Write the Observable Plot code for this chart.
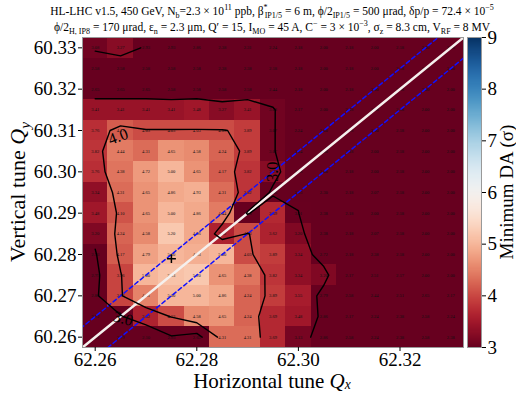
<!DOCTYPE html>
<html><head><meta charset="utf-8">
<script src="https://cdn.jsdelivr.net/npm/d3@7"></script>
<script src="https://cdn.jsdelivr.net/npm/@observablehq/plot@0.6"></script>
<style>
body{margin:0;background:#fff;}
#wrap{position:relative;width:516px;height:393px;overflow:hidden;font-family:"Liberation Serif","DejaVu Serif",serif;color:#000;}
#wrap svg{position:absolute;left:0;top:0;overflow:visible;}
.lbl{position:absolute;white-space:nowrap;line-height:1;}
.lbl sub,.lbl sup{font-size:70%;line-height:0;}
.lbl sub.low{font-size:65%;vertical-align:-0.08em;}
</style></head><body><div id="wrap"></div>
<script>
// ---- data ----
const qx = [62.26, 62.265, 62.27, 62.275, 62.28, 62.285, 62.29, 62.295, 62.30, 62.305, 62.31, 62.315, 62.32, 62.325, 62.33];
const qy = [60.33, 60.325, 60.32, 60.315, 60.31, 60.305, 60.30, 60.295, 60.29, 60.285, 60.28, 60.275, 60.27, 60.265, 60.26];
const da = [
  [3.08, 3.27, 2.93, 2.93, 2.86, 2.38, 2.31, 2.24, 2.18, 2.00, 2.18, 2.00, 2.18, 2.00, 2.00],
  [2.58, 2.58, 2.58, 2.58, 2.58, 2.38, 2.38, 2.18, 2.18, 2.00, 2.18, 2.00, 2.18, 2.00, 2.00],
  [2.65, 2.65, 2.65, 2.58, 2.58, 2.58, 2.58, 2.44, 2.18, 2.00, 2.18, 2.00, 2.18, 2.00, 2.00],
  [3.41, 3.41, 3.41, 3.41, 3.48, 3.27, 3.41, 3.08, 2.17, 2.00, 2.18, 2.00, 2.18, 2.00, 2.00],
  [3.76, 4.17, 4.03, 4.03, 4.03, 4.03, 3.89, 3.07, 2.24, 2.00, 2.18, 2.00, 2.18, 2.00, 2.00],
  [3.82, 4.44, 4.31, 4.65, 4.58, 4.24, 3.89, 3.07, 2.24, 2.00, 2.18, 2.00, 2.18, 2.00, 2.00],
  [3.76, 4.38, 4.72, 5.00, 4.65, 4.17, 3.82, 3.27, 2.38, 2.00, 2.18, 2.00, 2.18, 2.00, 2.00],
  [3.34, 4.31, 4.65, 4.86, 4.93, 4.31, 3.82, 2.86, 2.93, 2.30, 2.18, 2.07, 2.18, 2.00, 2.00],
  [3.48, 4.10, 4.65, 5.00, 4.86, 4.44, 2.93, 3.69, 3.01, 2.38, 2.18, 2.00, 2.18, 2.00, 2.00],
  [3.20, 4.24, 4.58, 5.20, 4.86, 3.62, 4.03, 3.62, 3.20, 2.38, 2.18, 2.07, 2.18, 2.00, 2.00],
  [2.93, 4.17, 4.79, 5.00, 4.93, 5.00, 4.03, 3.89, 3.34, 2.72, 2.18, 2.38, 2.18, 2.00, 2.00],
  [2.79, 3.96, 5.00, 5.13, 5.20, 4.65, 4.38, 3.82, 3.34, 3.20, 2.17, 2.51, 2.17, 2.00, 2.00],
  [2.86, 3.96, 4.51, 5.00, 5.00, 4.86, 4.24, 3.89, 3.55, 2.79, 2.58, 2.44, 2.51, 2.65, 2.17],
  [2.72, 2.93, 3.62, 4.03, 4.58, 4.65, 4.24, 3.69, 3.48, 2.86, 2.17, 2.24, 2.38, 2.58, 2.24],
  [2.72, 2.79, 2.10, 2.93, 2.65, 4.31, 4.31, 3.69, 3.13, 2.86, 2.58, 2.24, 2.38, 2.58, 2.38]
];
const xTicks = [62.26, 62.28, 62.30, 62.32];
const yTicks = [60.26, 60.27, 60.28, 60.29, 60.30, 60.31, 60.32, 60.33];
const cbTicks = [3, 4, 5, 6, 7, 8, 9];
const daRange = [3, 9];
const contourLevels = [3, 4];
const diagonalShift = 2;          // Qy = Qx - 2
const bandOffsets = [-0.005, 0.005];
const workingPoint = [{qx: 62.275, qy: 60.279}];
const contourLabels = [
  {qx: 62.2645, qy: 60.3085, text: "4.0", rotate: -20},
  {qx: 62.295, qy: 60.300, text: "3.0", rotate: -90},
  {qx: 62.2655, qy: 60.2645, text: "3.0", rotate: 15}
];

// ---- derived ----
const FONT = "Liberation Serif, DejaVu Serif, serif";
const step = qx[1] - qx[0];
const nx = qx.length, ny = qy.length;
const xDom = [qx[0] - step / 2, qx[nx - 1] + step / 2];
const yDom = [qy[ny - 1] - step / 2, qy[0] + step / 2];
const cells = [];
da.forEach((row, j) => row.forEach((v, i) => cells.push({qx: qx[i], qy: qy[j], v})));

// contour lines (clipped to the grid of cell centres, as matplotlib does)
const polys = d3.contours().size([nx, ny]).thresholds(contourLevels)(da.flat());
const lines = [];
let lid = 0;
const eps = 1e-6;
const inside = p => p[0] >= 0.5 - eps && p[0] <= nx - 0.5 + eps && p[1] >= 0.5 - eps && p[1] <= ny - 0.5 + eps;
const toData = p => ({qx: qx[0] + (p[0] - 0.5) * step, qy: qy[0] - (p[1] - 0.5) * step});
polys.forEach(mp => mp.coordinates.forEach(poly => poly.forEach(ring => {
  const flags = ring.map(inside);
  if (flags.every(f => f)) {
    lid++; ring.forEach(p => lines.push({...toData(p), id: lid}));
    return;
  }
  const k = flags.indexOf(false);
  const r = ring.slice(k, ring.length - 1).concat(ring.slice(0, k + 1));
  let seg = [];
  const flush = () => { if (seg.length > 1) { lid++; seg.forEach(p => lines.push({...toData(p), id: lid})); } seg = []; };
  r.forEach(p => { if (inside(p)) seg.push(p); else flush(); });
  flush();
})));

const diagPts = xDom.map(x => ({qx: x, qy: x - diagonalShift}));
const bandPts = [];
bandOffsets.forEach((o, k) => [xDom[0] - 0.01, xDom[1] + 0.01].forEach(x => bandPts.push({qx: x, qy: x - diagonalShift + o, k})));

const colorScale = {type: "linear", scheme: "rdbu", domain: daRange, clamp: true};

const main = Plot.plot({
  width: 516, height: 393,
  marginLeft: 82, marginRight: 53, marginTop: 37, marginBottom: 46,
  style: {fontFamily: FONT, background: "transparent"},
  x: {domain: xDom},
  y: {domain: yDom},
  color: colorScale,
  marks: [
    Plot.rect(cells, {x1: d => d.qx - step / 2, x2: d => d.qx + step / 2, y1: d => d.qy - step / 2, y2: d => d.qy + step / 2, fill: "v", shapeRendering: "crispEdges"}),
    Plot.text(cells, {x: "qx", y: "qy", text: d => d.v.toFixed(2), fontSize: 4.5, fill: "#111", fontFamily: FONT}),
    Plot.line(bandPts, {x: "qx", y: "qy", z: "k", stroke: "#1010ff", strokeWidth: 1.5, strokeDasharray: "4,3", clip: "frame"}),
    Plot.line(diagPts, {x: "qx", y: "qy", stroke: "#f5f0ee", strokeWidth: 2.5, clip: "frame"}),
    Plot.line(lines, {x: "qx", y: "qy", z: "id", stroke: "black", strokeWidth: 1.4}),
    Plot.text(contourLabels, {x: "qx", y: "qy", text: "text", rotate: "rotate", fontSize: 16, fill: "#000", fontFamily: FONT}),
    Plot.dot(workingPoint, {x: "qx", y: "qy", symbol: "plus", r: 3, stroke: "black", strokeWidth: 1.5}),
    Plot.frame({stroke: "#999"}),
    Plot.axisX({ticks: xTicks, tickFormat: d => d.toFixed(2), tickSize: 4, tickPadding: 1, fontSize: 19, fontFamily: FONT, label: null}),
    Plot.axisY({ticks: yTicks, tickFormat: d => d.toFixed(2), tickSize: 4, tickPadding: 2, fontSize: 19, fontFamily: FONT, label: null})
  ]
});

const cbSteps = d3.range(daRange[0], daRange[1], 0.02);
const cb = Plot.plot({
  width: 516, height: 393,
  marginLeft: 467, marginRight: 35, marginTop: 37, marginBottom: 46,
  style: {fontFamily: FONT, background: "transparent"},
  x: {domain: [0, 1], axis: null},
  y: {domain: daRange},
  color: colorScale,
  marks: [
    Plot.rect(cbSteps, {x1: 0, x2: 1, y1: d => d, y2: d => Math.min(d + 0.025, daRange[1]), fill: d => d + 0.01, shapeRendering: "crispEdges"}),
    Plot.frame({stroke: "#999"}),
    Plot.axisY({anchor: "right", ticks: cbTicks, tickFormat: d => String(d), tickSize: 4, tickPadding: 2, fontSize: 19, fontFamily: FONT, label: null})
  ]
});

const wrap = document.getElementById("wrap");
wrap.appendChild(main);
wrap.appendChild(cb);
d3.select(wrap).selectAll("svg, svg g, svg text").attr("font-family", FONT).style("font-family", FONT);

function addLabel(html, css) {
  const d = document.createElement("div");
  d.className = "lbl";
  d.innerHTML = html;
  Object.assign(d.style, css);
  wrap.appendChild(d);
}
addLabel('HL-LHC v1.5, 450 GeV, N<sub>b</sub>=2.3 × 10<sup>11</sup> ppb, β<sup>*</sup><sub style="margin-left:-3px">IP1/5</sub> = 6 m, ϕ/2<sub>IP1/5</sub> = 500 μrad, δp/p = 72.4 × 10<sup>−5</sup>',
  {left: "272px", top: "6px", fontSize: "11.5px", transform: "translateX(-50%)"});
addLabel('ϕ/2<sub>H, IP8</sub> = 170 μrad, ε<sub>n</sub> = 2.3 μm, Q′ = 15, I<sub>MO</sub> = 45 A, C<sup>−</sup> = 3 × 10<sup>−3</sup>, σ<sub>z</sub> = 8.3 cm, V<sub>RF</sub> = 8 MV',
  {left: "272px", top: "22px", fontSize: "11.5px", transform: "translateX(-50%)"});
addLabel('Horizontal tune <i>Q</i><sub class="low"><i>x</i></sub>', {left: "272px", top: "371px", fontSize: "21px", transform: "translateX(-50%)"});
addLabel('Vertical tune <i>Q</i><sub><i>y</i></sub>', {left: "18px", top: "192px", fontSize: "22px", transform: "translate(-50%,-50%) rotate(-90deg)"});
addLabel('Minimum DA (σ)', {left: "506px", top: "192px", fontSize: "19px", transform: "translate(-50%,-50%) rotate(-90deg)"});
</script></body></html>
